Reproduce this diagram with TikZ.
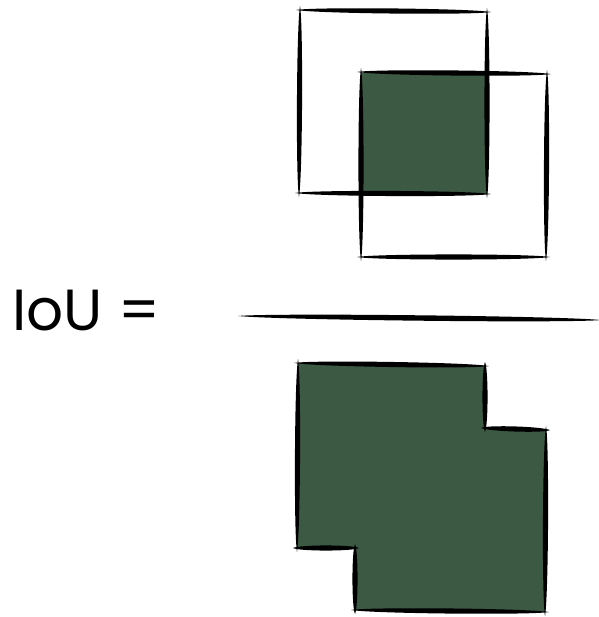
\documentclass[tikz,border=0pt]{standalone}
\usepackage{fontspec}
\setmainfont{Poppins}
\usetikzlibrary{calc}

\definecolor{boxgreen}{HTML}{3C5944}

% tapered pen stroke between two points
\newcommand{\pen}[3][3.4]{%
  \coordinate (p) at ($(#2)!-4pt!(#3)$);
  \coordinate (q) at ($(#3)!-4pt!(#2)$);
  \fill (p) .. controls ($(p)!0.1!(q)!#1pt!90:(q)$) and ($(p)!0.9!(q)!#1pt!90:(q)$) .. (q)
    .. controls ($(p)!0.9!(q)!#1pt!-90:(q)$) and ($(p)!0.1!(q)!#1pt!-90:(q)$) .. (p) -- cycle;}

\begin{document}
\begin{tikzpicture}[x=1pt,y=-1pt]
        \useasboundingbox (0,0) rectangle (598,617);

        \node[anchor=base west, inner sep=0pt, font=\fontsize{58}{58}\selectfont] (iou) at (12,330) {IoU =};

        % horni ctverce
        \coordinate (A1) at (300,10);
        \coordinate (A2) at (487,12);
        \coordinate (A3) at (487,194);
        \coordinate (A4) at (299,193);
        \coordinate (B1) at (361,72);
        \coordinate (B2) at (547,74);
        \coordinate (B3) at (546,257);
        \coordinate (B4) at (361,257);
        \coordinate (I1) at (361,73);
        \coordinate (I4) at (361,193);

        % prunik
        \fill[boxgreen] (I1) -- (A2 |- I1) -- (A3) -- (I4) -- cycle;

        \pen{A1}{A2}
        \pen{A2}{A3}
        \pen{A3}{A4}
        \pen{A4}{A1}
        \pen{B1}{B2}
        \pen{B2}{B3}
        \pen{B3}{B4}
        \pen{B4}{B1}

        % zlomkova cara
        \coordinate (L1) at (242,316);
        \coordinate (L2) at (597,320);
        \pen[3.6]{L1}{L2}

        % sjednoceni
        \coordinate (U1) at (298,363);
        \coordinate (U2) at (485,366);
        \coordinate (U3) at (485,428);
        \coordinate (U4) at (546,430);
        \coordinate (U5) at (545,612);
        \coordinate (U6) at (355,610);
        \coordinate (U7) at (355,548);
        \coordinate (U8) at (297,548);

        \fill[boxgreen] (U1) -- (U2) -- (U3) -- (U4) -- (U5) -- (U6) -- (U7) -- (U8) -- cycle;

        \pen{U1}{U2}
        \pen{U2}{U3}
        \pen{U3}{U4}
        \pen{U4}{U5}
        \pen{U5}{U6}
        \pen{U6}{U7}
        \pen{U7}{U8}
        \pen{U8}{U1}

    \end{tikzpicture}
\end{document}
